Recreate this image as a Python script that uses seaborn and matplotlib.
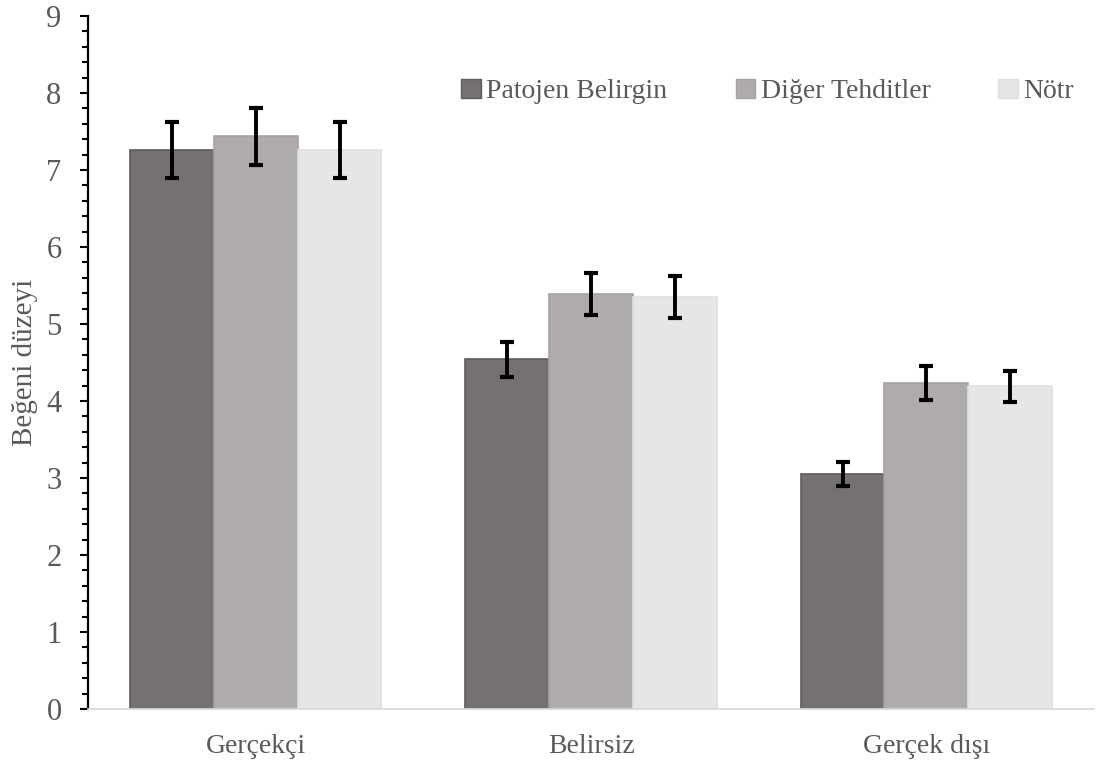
#!/usr/bin/env python3
"""Grouped bar chart: liking level by realism condition and threat type."""

import matplotlib

matplotlib.use("Agg")
import matplotlib.pyplot as plt
import pandas as pd
import seaborn as sns
from matplotlib.ticker import MultipleLocator

categories = ["Gerçekçi", "Belirsiz", "Gerçek dışı"]
groups = ["Patojen Belirgin", "Diğer Tehditler", "Nötr"]
patojen = [7.26, 4.54, 3.05]
diger = [7.44, 5.39, 4.23]
notr = [7.26, 5.35, 4.19]
patojen_err = [0.36, 0.23, 0.16]
diger_err = [0.37, 0.27, 0.22]
notr_err = [0.36, 0.27, 0.20]

colors = ["#767171", "#AFABAB", "#E7E6E6"]
edges = ["#5f5b5b", "#a6a2a2", "#e0dfdf"]
text_color = "#595959"

sns.set_style("white")
plt.rcParams["font.family"] = ["Liberation Serif", "DejaVu Serif"]

rows = []
for grp, vals, errs in [
    (groups[0], patojen, patojen_err),
    (groups[1], diger, diger_err),
    (groups[2], notr, notr_err),
]:
    for cat, v, e in zip(categories, vals, errs):
        rows.append({"kosul": cat, "grup": grp, "deger": v, "hata": e})
df = pd.DataFrame(rows)

fig = plt.figure(figsize=(11.04, 7.65), dpi=100)
ax = fig.add_axes([0.0797, 0.0732, 0.9113, 0.906])

sns.barplot(
    data=df,
    x="kosul",
    y="deger",
    hue="grup",
    order=categories,
    hue_order=groups,
    palette=colors,
    width=0.75,
    errorbar=None,
    saturation=1,
    ax=ax,
)

# edges and error bars, one container per group
for cont, grp, ec in zip(ax.containers, groups, edges):
    sub = df[df["grup"] == grp].set_index("kosul").loc[categories]
    xs = []
    for bar in cont:
        bar.set_edgecolor(ec)
        bar.set_linewidth(1.2)
        xs.append(bar.get_x() + bar.get_width() / 2)
    ax.errorbar(
        xs,
        sub["deger"].values,
        yerr=sub["hata"].values,
        fmt="none",
        ecolor="black",
        elinewidth=2.8,
        capsize=5,
        capthick=3,
        zorder=5,
    )

ax.set_xlim(-0.5, 2.5)
ax.set_ylim(0, 9)
ax.yaxis.set_major_locator(MultipleLocator(1))
ax.yaxis.set_minor_locator(MultipleLocator(0.2))
ax.tick_params(axis="y", which="major", direction="out", length=6, width=1.5,
               color="black", left=True, labelsize=22, labelcolor=text_color, pad=13)
ax.tick_params(axis="y", which="minor", direction="out", length=4, width=1.5,
               color="black", left=True)
ax.tick_params(axis="x", length=0, labelsize=20, labelcolor=text_color, pad=18)

for side in ["top", "right"]:
    ax.spines[side].set_visible(False)
ax.spines["left"].set_color("black")
ax.spines["left"].set_linewidth(1.6)
ax.spines["bottom"].set_color("#d9d9d9")
ax.spines["bottom"].set_linewidth(1.3)

ax.set_xlabel("")
ax.set_ylabel("Beğeni düzeyi", fontsize=21, color=text_color, labelpad=6)

leg = ax.legend(
    loc="upper right",
    bbox_to_anchor=(1.005, 0.945),
    ncol=3,
    frameon=False,
    fontsize=20,
    labelcolor=text_color,
    handlelength=0.7,
    handleheight=0.7,
    handletextpad=0.2,
    columnspacing=2.45,
)
for h, ec in zip(leg.legend_handles, edges):
    h.set_edgecolor(ec)

fig.savefig("out.png", dpi=100)
plt.close(fig)
